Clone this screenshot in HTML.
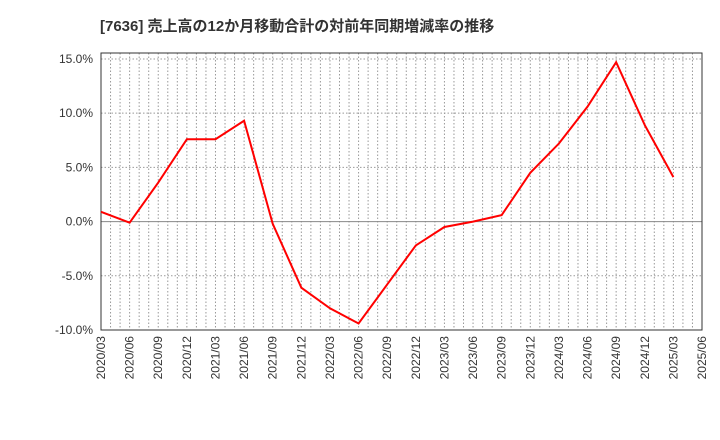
<!DOCTYPE html>
<html><head><meta charset="utf-8"><style>
body{margin:0;background:#fff;}
svg{display:block;font-family:"Liberation Sans","Noto Sans CJK JP",sans-serif;}
</style></head><body>
<svg id="c" width="720" height="440">
<text x="100" y="31" font-size="15" font-weight="bold" fill="#333">[7636]  売上高の12か月移動合計の対前年同期増減率の推移</text>
<g id="grid"></g><g id="axes"></g><g id="series"></g>
</svg>
<script>
const categories=["2020/03","2020/06","2020/09","2020/12","2021/03","2021/06","2021/09","2021/12","2022/03","2022/06","2022/09","2022/12","2023/03","2023/06","2023/09","2023/12","2024/03","2024/06","2024/09","2024/12","2025/03","2025/06"];
const values=[0.9,-0.1,3.6,7.6,7.6,9.3,-0.2,-6.1,-8.0,-9.4,-5.8,-2.2,-0.5,0.0,0.6,4.5,7.2,10.6,14.7,8.9,4.1];
const yTicks=[-10,-5,0,5,10,15];
const L=101,R=702,T=53,B=330,yMin=-10,yMax=15.55;
const NS="http://www.w3.org/2000/svg";
const x=i=>L+(R-L)*i/(categories.length-1);
const y=v=>B-(v-yMin)/(yMax-yMin)*(B-T);
function mk(t,a,p){const e=document.createElementNS(NS,t);for(const k in a)e.setAttribute(k,a[k]);p.appendChild(e);return e;}
const grid=document.getElementById('grid'),axes=document.getElementById('axes'),series=document.getElementById('series');
for(let m=1;m<(categories.length-1)*3;m++){const xx=L+(R-L)*m/((categories.length-1)*3);
const g=mk('line',{x1:xx,x2:xx,y1:T,y2:B,stroke:'#999','stroke-dasharray':'1.5,2','stroke-width':1},grid);

}
yTicks.forEach(v=>{const yy=y(v);
const g=mk('line',{x1:L,x2:R,y1:yy,y2:yy,stroke:v===0?'#888':'#999','stroke-dasharray':v===0?'none':'1.5,2','stroke-width':1},grid);


const t=mk('text',{x:L-8,y:yy+4,'text-anchor':'end','font-size':12,fill:'#333'},axes);t.textContent=v.toFixed(1)+'%';

});
categories.forEach((c,i)=>{const xx=x(i);
const t=mk('text',{transform:`translate(${xx+4},${B+6}) rotate(-90)`,'text-anchor':'end','font-size':12,fill:'#333'},axes);t.textContent=c;

});
const fr=mk('rect',{x:L,y:T,width:R-L,height:B-T,fill:'none',stroke:'#333','stroke-width':1},axes);


const pl=mk('polyline',{points:values.map((v,i)=>x(i)+','+y(v)).join(' '),fill:'none',stroke:'#f00','stroke-width':2},series);


</script>
</body></html>
